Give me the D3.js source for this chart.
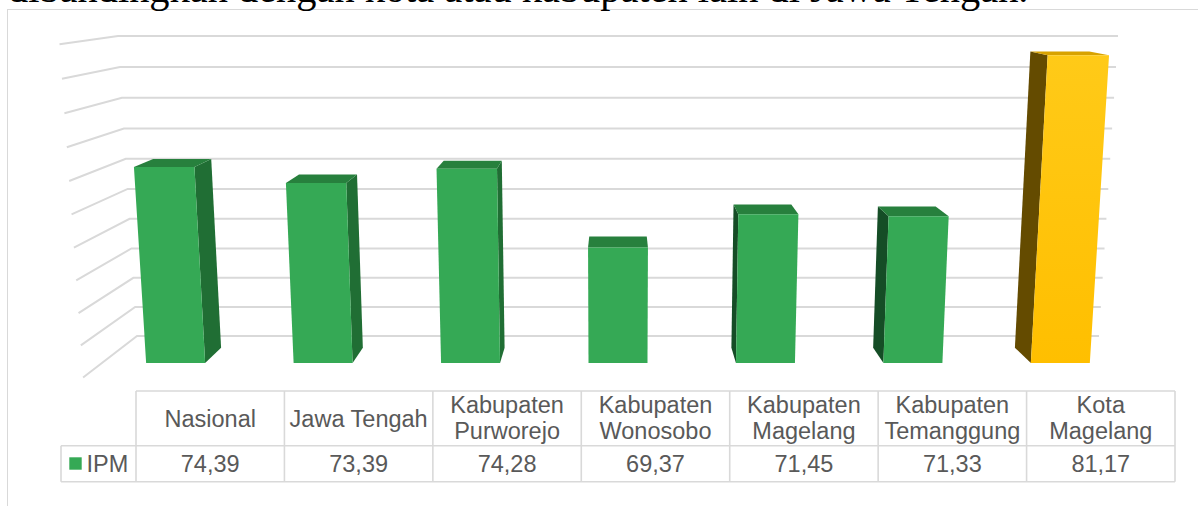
<!DOCTYPE html>
<html>
<head>
<meta charset="utf-8">
<script src="https://cdn.jsdelivr.net/npm/d3@7"></script>
<style>
  html, body { margin: 0; padding: 0; background: #ffffff; }
  svg { display: block; }
</style>
</head>
<body>
<svg id="chart" width="1198" height="506"></svg>
<script>
// ---------------- DATA ----------------
const categories = ["Nasional", "Jawa Tengah", "Kabupaten Purworejo", "Kabupaten Wonosobo",
                    "Kabupaten Magelang", "Kabupaten Temanggung", "Kota Magelang"];
const headerLines = [["Nasional"], ["Jawa Tengah"], ["Kabupaten", "Purworejo"], ["Kabupaten", "Wonosobo"],
                     ["Kabupaten", "Magelang"], ["Kabupaten", "Temanggung"], ["Kota", "Magelang"]];
const ipmValues = [74.39, 73.39, 74.28, 69.37, 71.45, 71.33, 81.17];
const seriesName = "IPM";
const highlighted = ["Kota Magelang"];
const gridValues = [62, 64, 66, 68, 70, 72, 74, 76, 78, 80, 82];
const captionText = "dibandingkan dengan kota atau kabupaten lain di Jawa Tengah.";

// ---------------- SETUP ----------------
const W = 1198, H = 506;
const svg = d3.select("#chart");

// camera / perspective
const F = 1400, X0 = 618, Y0 = 220;
const phi = Math.atan(0.1814);
const S = Math.sin(phi), C = Math.cos(phi);
function proj(x, y, z) {
  const d = -y * S + z * C;
  const u = y * C + z * S;
  return [X0 + F * x / d, Y0 - F * u / d];
}
function poly(pts) {
  return "M" + pts.map(p => proj(p[0], p[1], p[2]).map(v => v.toFixed(2)).join(",")).join("L") + "Z";
}

// world scales
const yScale = d3.scaleLinear().domain([d3.min(gridValues), d3.max(gridValues)]).range([-268.3, -48.8]);
const xScale = d3.scaleBand().domain(categories).range([-354.5, 354.5]).paddingInner(0.6).paddingOuter(0.3);
const wallX = -354.5, wallX2 = 354.5;
const wallZ0 = 894.3, wallZ1 = 1000;
const barZ0 = 928.7, barZ1 = 968;

// chart frame
svg.append("rect").attr("x", 7.5).attr("y", 9.5).attr("width", W).attr("height", H)
  .attr("fill", "#ffffff").attr("stroke", "#d9d9d9").attr("stroke-width", 1);

// caption text (cut off at top, as in the source page)
svg.append("text").attr("x", 8).attr("y", 1.5)
  .attr("font-family", "'Liberation Serif', 'Times New Roman', serif")
  .attr("font-size", 40.4).attr("fill", "#000")
  .text(captionText);

// gridlines: left wall + back wall
const gridG = svg.append("g");
gridValues.forEach(v => {
  const y = yScale(v);
  const a = proj(wallX, y, wallZ0), b = proj(wallX, y, wallZ1), c = proj(wallX2, y, wallZ1);
  gridG.append("path")
    .attr("d", `M${a[0]},${a[1]}L${b[0]},${b[1]}L${c[0]},${c[1]}`)
    .attr("fill", "none").attr("stroke", "#d9d9d9").attr("stroke-width", 2);
});

// gradient for gold bar
const defs = svg.append("defs");
const gg = defs.append("linearGradient").attr("id", "goldGrad").attr("x1", 0).attr("y1", 0).attr("x2", 0).attr("y2", 1);
gg.append("stop").attr("offset", "0%").attr("stop-color", "#ffca18");
gg.append("stop").attr("offset", "100%").attr("stop-color", "#ffbf00");

// bars
const colors = {
  green: { front: "#35a955", top: "#27803d", rightSide: "#206e34", leftSide: "#154d26" },
  gold:  { front: "url(#goldGrad)", top: "#d8a200", rightSide: "#7a5c00", leftSide: "#644b00" }
};
const barsG = svg.append("g");
categories.forEach((cat, i) => {
  const v = ipmValues[i];
  const pal = highlighted.includes(cat) ? colors.gold : colors.green;
  const x0 = xScale(cat), x1 = x0 + xScale.bandwidth();
  const yb = yScale(gridValues[0]), yt = yScale(v);
  const cx = (x0 + x1) / 2;
  const g = barsG.append("g");
  if (cx < -1) {
    g.append("path").attr("d", poly([[x1, yb, barZ0], [x1, yb, barZ1], [x1, yt, barZ1], [x1, yt, barZ0]]))
      .attr("fill", pal.rightSide);
  } else if (cx > 1) {
    g.append("path").attr("d", poly([[x0, yb, barZ0], [x0, yb, barZ1], [x0, yt, barZ1], [x0, yt, barZ0]]))
      .attr("fill", pal.leftSide);
  }
  g.append("path").attr("d", poly([[x0, yt, barZ0], [x1, yt, barZ0], [x1, yt, barZ1], [x0, yt, barZ1]]))
    .attr("fill", pal.top);
  g.append("path").attr("d", poly([[x0, yb, barZ0], [x1, yb, barZ0], [x1, yt, barZ0], [x0, yt, barZ0]]))
    .attr("fill", pal.front);
});

// ---------------- DATA TABLE ----------------
const tX = d3.scaleBand().domain(categories).range([136, 1175]);
const rowTop = 391, rowMid = 445.7, rowBot = 481.7, legendLeft = 61;
const fmt = d3.formatLocale({ decimal: ",", thousands: ".", grouping: [3], currency: ["", ""] }).format(".2f");
const tbl = svg.append("g");
const lineColor = "#d9d9d9";
function hline(x1, x2, y) {
  tbl.append("line").attr("x1", x1).attr("x2", x2).attr("y1", y).attr("y2", y)
    .attr("stroke", lineColor).attr("stroke-width", 1.6);
}
function vline(x, y1, y2) {
  tbl.append("line").attr("x1", x).attr("x2", x).attr("y1", y1).attr("y2", y2)
    .attr("stroke", lineColor).attr("stroke-width", 1.6);
}
hline(136, 1175, rowTop);
hline(legendLeft, 1175, rowMid);
hline(legendLeft, 1175, rowBot);
vline(legendLeft, rowMid, rowBot);
categories.forEach(c => vline(tX(c), rowTop, rowBot));
vline(1175, rowTop, rowBot);

const textFont = "'Liberation Sans', Arial, sans-serif";
const fs = 23.5;
categories.forEach((c, i) => {
  const cx = tX(c) + tX.bandwidth() / 2;
  const lines = headerLines[i];
  const baseYs = lines.length === 1 ? [426.7] : [413.3, 439.3];
  lines.forEach((ln, j) => {
    tbl.append("text").attr("x", cx).attr("y", baseYs[j]).attr("text-anchor", "middle")
      .attr("font-family", textFont).attr("font-size", fs).attr("fill", "#595959").text(ln);
  });
  tbl.append("text").attr("x", cx).attr("y", 472.3).attr("text-anchor", "middle")
    .attr("font-family", textFont).attr("font-size", fs).attr("fill", "#595959").text(fmt(ipmValues[i]));
});
// legend key
tbl.append("rect").attr("x", 69.3).attr("y", 457.3).attr("width", 12.4).attr("height", 12.4).attr("fill", colors.green.front);
tbl.append("text").attr("x", 86.5).attr("y", 472.3).attr("font-family", textFont).attr("font-size", fs)
  .attr("fill", "#595959").text(seriesName);
</script>
</body>
</html>
